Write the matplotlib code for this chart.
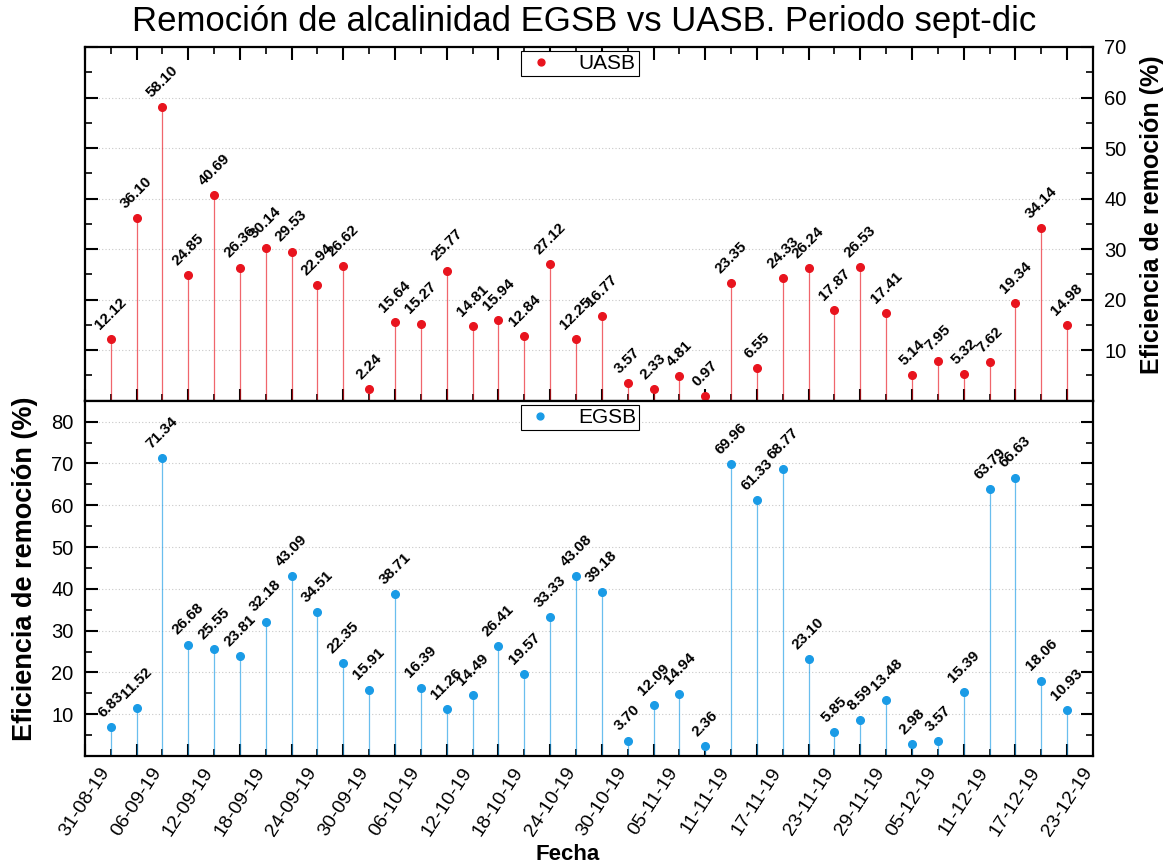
import matplotlib
matplotlib.use('Agg')
import matplotlib.pyplot as plt
import matplotlib.dates as mdates
import pandas as pd

plt.rcParams['font.family'] = ['Liberation Sans', 'DejaVu Sans']

fechas = ['2019-09-03', '2019-09-06', '2019-09-09', '2019-09-12', '2019-09-15',
          '2019-09-18', '2019-09-21', '2019-09-24', '2019-09-27', '2019-09-30',
          '2019-10-03', '2019-10-06', '2019-10-09', '2019-10-12', '2019-10-15',
          '2019-10-18', '2019-10-21', '2019-10-24', '2019-10-27', '2019-10-30',
          '2019-11-02', '2019-11-05', '2019-11-08', '2019-11-11', '2019-11-14',
          '2019-11-17', '2019-11-20', '2019-11-23', '2019-11-26', '2019-11-29',
          '2019-12-02', '2019-12-05', '2019-12-08', '2019-12-11', '2019-12-14',
          '2019-12-17', '2019-12-20', '2019-12-23']
uasb = [12.12, 36.10, 58.10, 24.85, 40.69, 26.36, 30.14, 29.53, 22.94, 26.62,
        2.24, 15.64, 15.27, 25.77, 14.81, 15.94, 12.84, 27.12, 12.25, 16.77,
        3.57, 2.33, 4.81, 0.97, 23.35, 6.55, 24.33, 26.24, 17.87, 26.53,
        17.41, 5.14, 7.95, 5.32, 7.62, 19.34, 34.14, 14.98]
egsb = [6.83, 11.52, 71.34, 26.68, 25.55, 23.81, 32.18, 43.09, 34.51, 22.35,
        15.91, 38.71, 16.39, 11.26, 14.49, 26.41, 19.57, 33.33, 43.08, 39.18,
        3.70, 12.09, 14.94, 2.36, 69.96, 61.33, 68.77, 23.10, 5.85, 8.59,
        13.48, 2.98, 3.57, 15.39, 63.79, 66.63, 18.06, 10.93]

x = pd.to_datetime(fechas)
ticks_mayor = pd.date_range('2019-08-31', '2019-12-23', freq='6D')
ticks_menor = pd.date_range('2019-08-31', '2019-12-26', freq='3D')

fig = plt.figure(figsize=(11.68, 8.67), dpi=100)
ax1 = fig.add_axes([0.0726, 0.5378, 0.8632, 0.408])
ax2 = fig.add_axes([0.0726, 0.128, 0.8632, 0.4098], sharex=ax1)

for ax, y, color, nombre in [(ax1, uasb, '#e8141e', 'UASB'), (ax2, egsb, '#1a9be6', 'EGSB')]:
    ax.vlines(x, 0, y, color=color, lw=0.9, alpha=0.65, zorder=2)
    ax.plot(x, y, 'o', color=color, ms=5.5, label=nombre, zorder=3)
    for xi, yi in zip(x, y):
        ax.annotate(f'{yi:.2f}', (xi, yi), xytext=(0, 5), textcoords='offset points',
                    rotation=45, ha='center', va='bottom', fontsize=11, fontweight='bold')
    leg = ax.legend(loc='upper center', bbox_to_anchor=(0.491, 1.0), fancybox=False,
                    edgecolor='black', framealpha=1, fontsize=15, handlelength=1.6,
                    handletextpad=1.0, borderpad=0.15, borderaxespad=0.2, markerscale=0.9)
    leg.get_frame().set_linewidth(0.8)
    ax.yaxis.grid(True, which='major', linestyle=(0, (1, 2)), color='#c8c8c8', lw=0.8)
    ax.set_axisbelow(True)
    for s in ax.spines.values():
        s.set_linewidth(1.6)

ax1.set_xlim(pd.Timestamp('2019-08-31'), pd.Timestamp('2019-12-26'))
ax1.set_xticks(ticks_mayor)
ax1.set_xticks(ticks_menor, minor=True)
ax1.xaxis.set_major_formatter(mdates.DateFormatter('%d-%m-%y'))

ax1.set_ylim(0, 70)
ax1.set_yticks(range(10, 71, 10))
ax1.set_yticks(range(5, 70, 10), minor=True)
ax2.set_ylim(0, 85)
ax2.set_yticks(range(10, 81, 10))
ax2.set_yticks(range(5, 86, 10), minor=True)

ax1.tick_params(axis='x', which='both', direction='in', top=True, bottom=True, labelbottom=False)
ax1.tick_params(axis='y', which='both', direction='in', left=True, right=True,
                labelleft=False, labelright=True)
ax2.tick_params(axis='x', which='both', direction='in', top=False, bottom=True)
ax2.tick_params(axis='y', which='both', direction='in', left=True, right=True)
for ax in (ax1, ax2):
    ax.tick_params(which='major', length=9, width=1.5, labelsize=14.5, pad=8)
    ax.tick_params(which='minor', length=5, width=1.2)
ax2.tick_params(axis='x', labelsize=14, pad=6)
plt.setp(ax2.get_xticklabels(), rotation=57, ha='center')

# etiquetas de los ejes y
fig.text(0.9863, 0.752, 'Eficiencia de remoción (%)', rotation=90, ha='center', va='center',
         fontsize=18, fontweight='bold')
fig.text(0.0214, 0.3437, 'Eficiencia de remoción (%)', rotation=90, ha='center', va='center',
         fontsize=19.5, fontweight='bold')

fig.text(0.5, 0.975, 'Remoción de alcalinidad EGSB vs UASB. Periodo sept-dic',
         ha='center', va='center', fontsize=25)
fig.text(0.486, 0.014, 'Fecha', ha='center', va='center', fontsize=16, fontweight='bold')

fig.savefig('out.png', dpi=100)
